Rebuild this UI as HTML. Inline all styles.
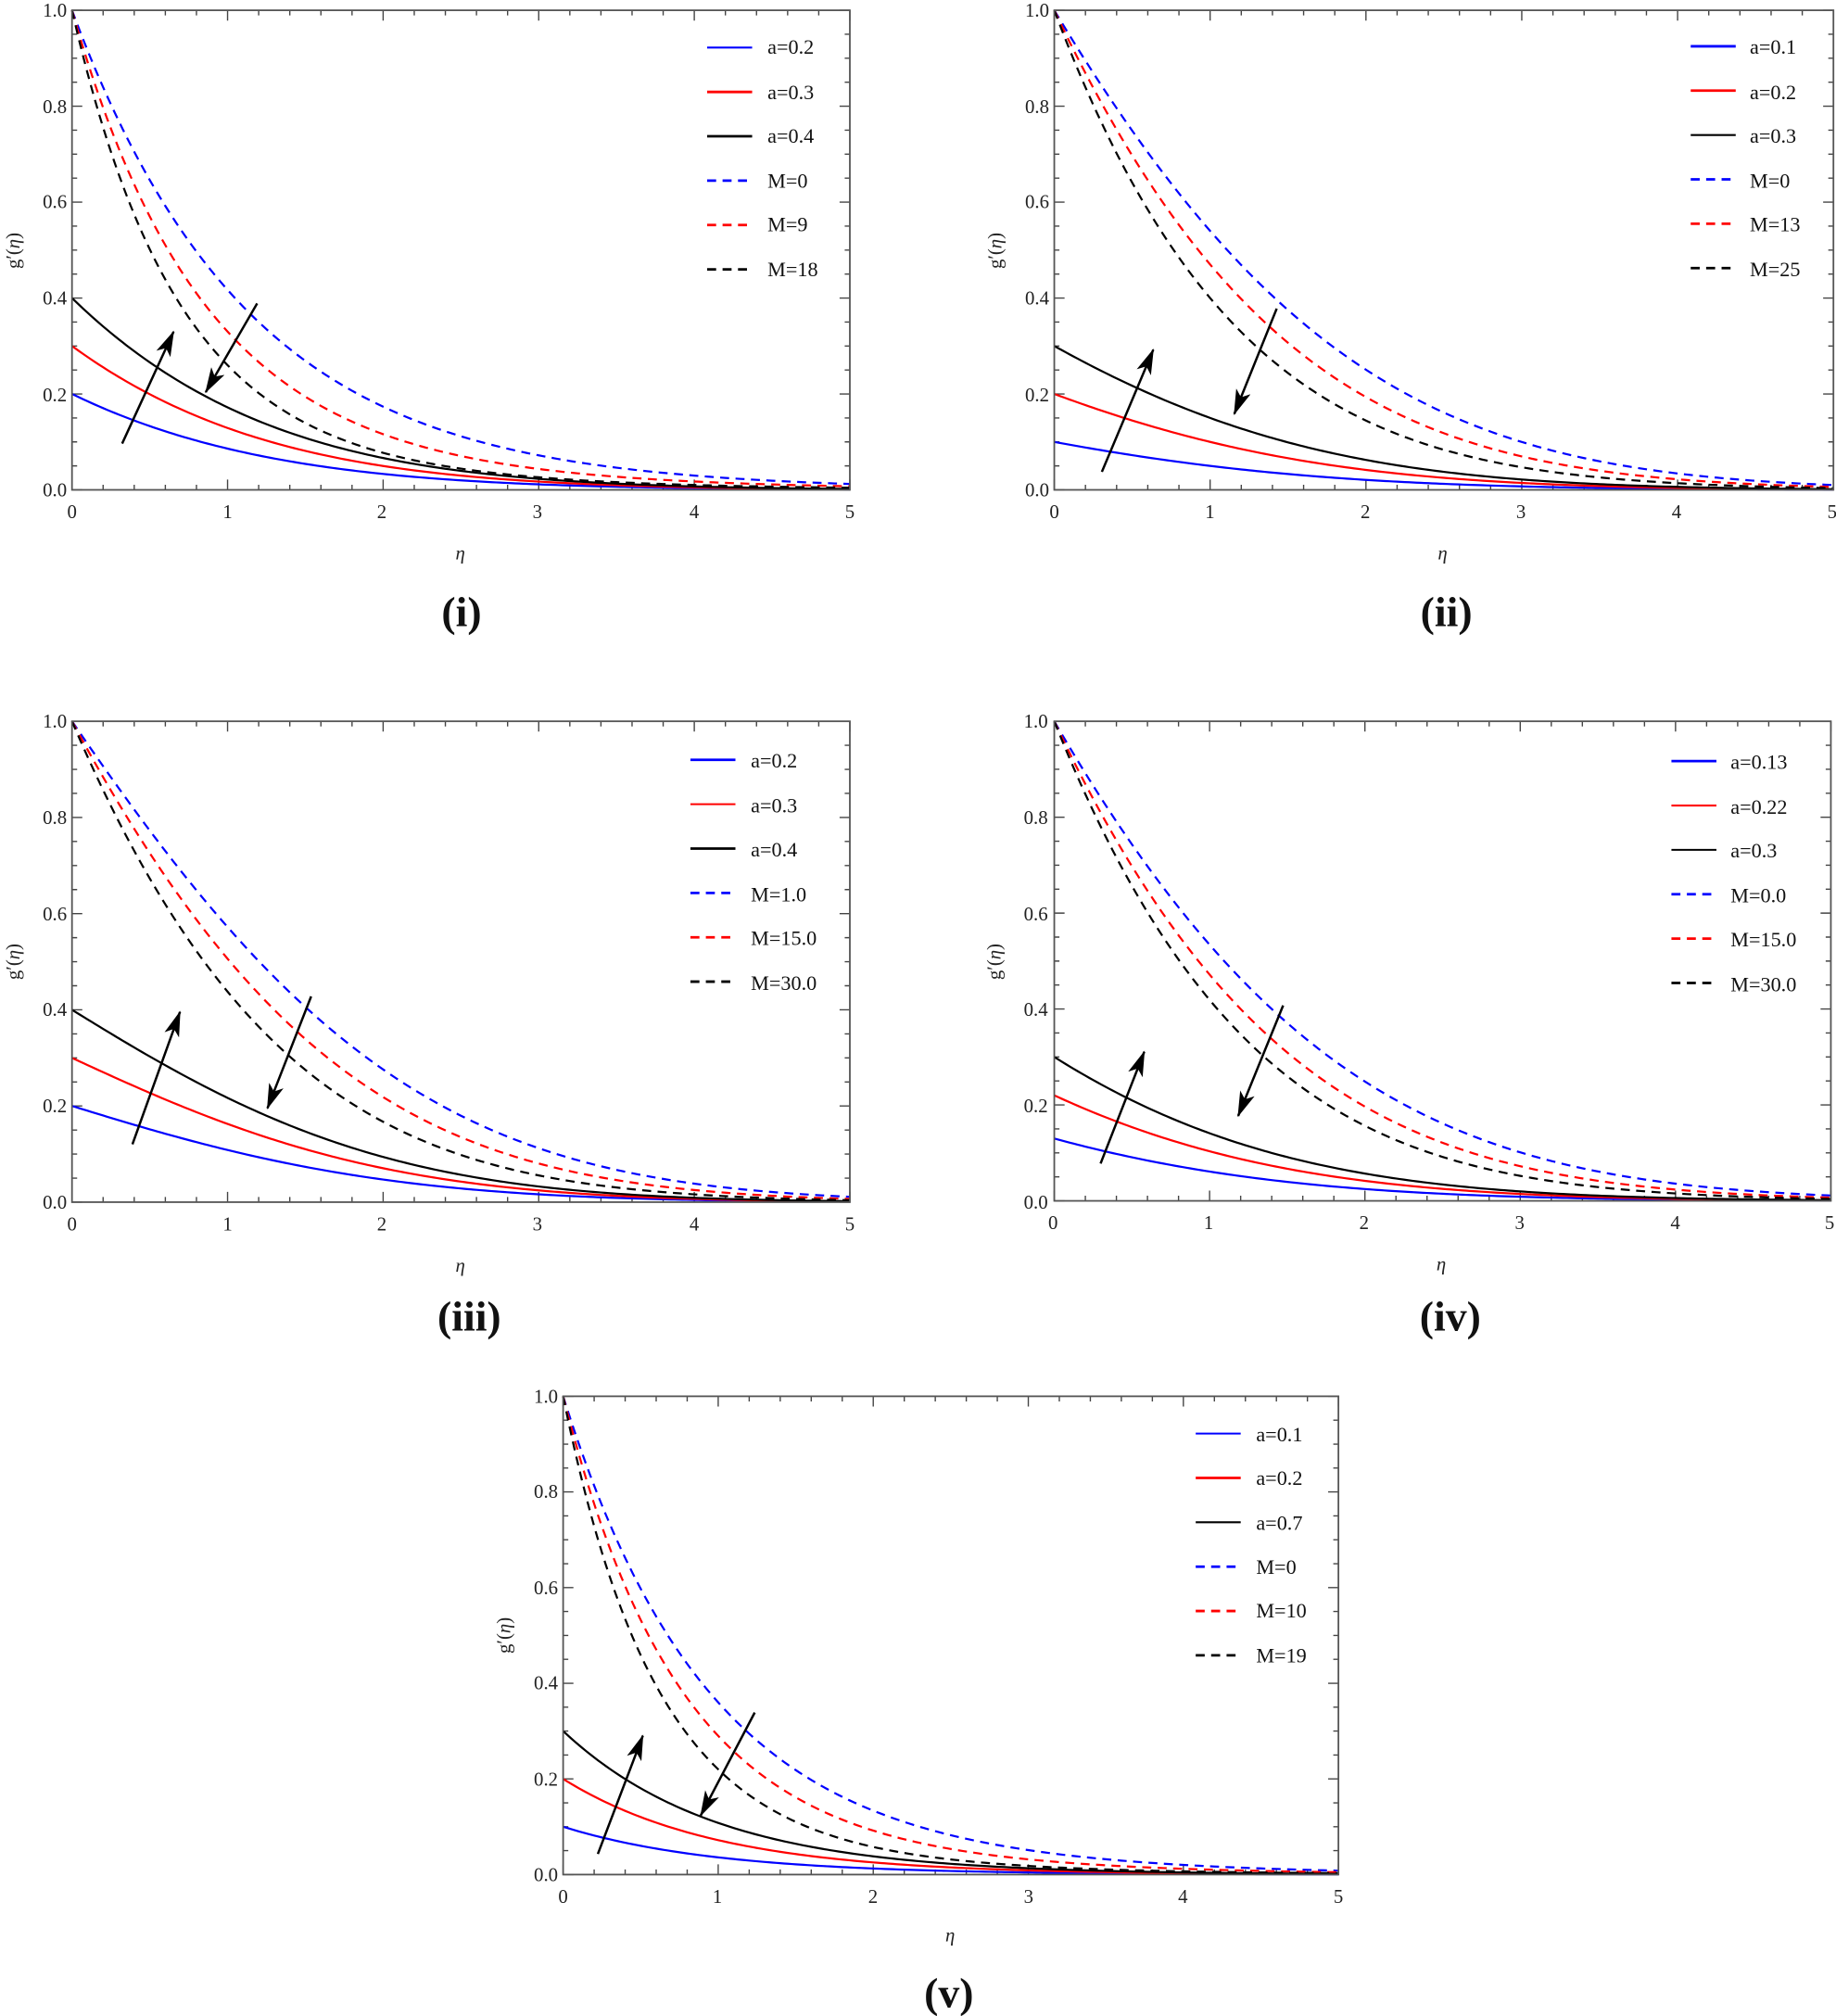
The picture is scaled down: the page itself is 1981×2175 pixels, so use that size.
<!DOCTYPE html>
<html><head><meta charset="utf-8"><style>
html,body{margin:0;padding:0;background:#fff;}
svg{display:block;}
text{font-family:"Liberation Serif",serif;}
.t{font-size:15px;fill:#222;}
.lg{font-size:16px;fill:#111;}
.cap{font-size:33px;font-weight:bold;fill:#111;}
.ax{font-size:15px;font-style:italic;fill:#222;}
</style></head><body>
<svg id="s" width="1981" height="2175" viewBox="0 0 1428 1568" preserveAspectRatio="none" xmlns="http://www.w3.org/2000/svg">
<defs>
<marker id="ah" markerWidth="20" markerHeight="12" refX="19" refY="6" orient="auto" markerUnits="userSpaceOnUse" viewBox="0 0 20 12"><path d="M0,0 L20,6 L0,12 L5,6 z" fill="#000"/></marker>
</defs>
<g id="plots"></g>
<g>
<text class="t" x="52" y="13" text-anchor="end">1.0</text><text class="t" x="52" y="88" text-anchor="end">0.8</text><text class="t" x="52" y="162" text-anchor="end">0.6</text><text class="t" x="52" y="237" text-anchor="end">0.4</text><text class="t" x="52" y="312" text-anchor="end">0.2</text><text class="t" x="52" y="386" text-anchor="end">0.0</text>
<text class="t" x="56" y="403" text-anchor="middle">0</text><text class="t" x="177" y="403" text-anchor="middle">1</text><text class="t" x="297" y="403" text-anchor="middle">2</text><text class="t" x="418" y="403" text-anchor="middle">3</text><text class="t" x="540" y="403" text-anchor="middle">4</text><text class="t" x="661" y="403" text-anchor="middle">5</text>
<text class="ax" x="358" y="435" text-anchor="middle">η</text>
<text class="t" transform="translate(15,195) rotate(-90)" text-anchor="middle">g′(<tspan font-style="italic">η</tspan>)</text>
<text class="cap" x="359" y="487" text-anchor="middle">(i)</text>
<text class="lg" x="597" y="42">a=0.2</text><text class="lg" x="597" y="77">a=0.3</text><text class="lg" x="597" y="111">a=0.4</text><text class="lg" x="597" y="146">M=0</text><text class="lg" x="597" y="180">M=9</text><text class="lg" x="597" y="215">M=18</text>
</g>
<g>
<text class="t" x="816" y="13" text-anchor="end">1.0</text><text class="t" x="816" y="88" text-anchor="end">0.8</text><text class="t" x="816" y="162" text-anchor="end">0.6</text><text class="t" x="816" y="237" text-anchor="end">0.4</text><text class="t" x="816" y="312" text-anchor="end">0.2</text><text class="t" x="816" y="386" text-anchor="end">0.0</text>
<text class="t" x="820" y="403" text-anchor="middle">0</text><text class="t" x="941" y="403" text-anchor="middle">1</text><text class="t" x="1062" y="403" text-anchor="middle">2</text><text class="t" x="1183" y="403" text-anchor="middle">3</text><text class="t" x="1304" y="403" text-anchor="middle">4</text><text class="t" x="1425" y="403" text-anchor="middle">5</text>
<text class="ax" x="1122" y="435" text-anchor="middle">η</text>
<text class="t" transform="translate(779,195) rotate(-90)" text-anchor="middle">g′(<tspan font-style="italic">η</tspan>)</text>
<text class="cap" x="1125" y="487" text-anchor="middle">(ii)</text>
<text class="lg" x="1361" y="42">a=0.1</text><text class="lg" x="1361" y="77">a=0.2</text><text class="lg" x="1361" y="111">a=0.3</text><text class="lg" x="1361" y="146">M=0</text><text class="lg" x="1361" y="180">M=13</text><text class="lg" x="1361" y="215">M=25</text>
</g>
<g>
<text class="t" x="52" y="566" text-anchor="end">1.0</text><text class="t" x="52" y="641" text-anchor="end">0.8</text><text class="t" x="52" y="716" text-anchor="end">0.6</text><text class="t" x="52" y="790" text-anchor="end">0.4</text><text class="t" x="52" y="865" text-anchor="end">0.2</text><text class="t" x="52" y="940" text-anchor="end">0.0</text>
<text class="t" x="56" y="957" text-anchor="middle">0</text><text class="t" x="177" y="957" text-anchor="middle">1</text><text class="t" x="297" y="957" text-anchor="middle">2</text><text class="t" x="418" y="957" text-anchor="middle">3</text><text class="t" x="540" y="957" text-anchor="middle">4</text><text class="t" x="661" y="957" text-anchor="middle">5</text>
<text class="ax" x="358" y="989" text-anchor="middle">η</text>
<text class="t" transform="translate(15,748) rotate(-90)" text-anchor="middle">g′(<tspan font-style="italic">η</tspan>)</text>
<text class="cap" x="365" y="1035" text-anchor="middle">(iii)</text>
<text class="lg" x="584" y="597">a=0.2</text><text class="lg" x="584" y="632">a=0.3</text><text class="lg" x="584" y="666">a=0.4</text><text class="lg" x="584" y="701">M=1.0</text><text class="lg" x="584" y="735">M=15.0</text><text class="lg" x="584" y="770">M=30.0</text>
</g>
<g>
<text class="t" x="815" y="566" text-anchor="end">1.0</text><text class="t" x="815" y="641" text-anchor="end">0.8</text><text class="t" x="815" y="716" text-anchor="end">0.6</text><text class="t" x="815" y="790" text-anchor="end">0.4</text><text class="t" x="815" y="865" text-anchor="end">0.2</text><text class="t" x="815" y="940" text-anchor="end">0.0</text>
<text class="t" x="819" y="956" text-anchor="middle">0</text><text class="t" x="940" y="956" text-anchor="middle">1</text><text class="t" x="1061" y="956" text-anchor="middle">2</text><text class="t" x="1182" y="956" text-anchor="middle">3</text><text class="t" x="1303" y="956" text-anchor="middle">4</text><text class="t" x="1423" y="956" text-anchor="middle">5</text>
<text class="ax" x="1121" y="988" text-anchor="middle">η</text>
<text class="t" transform="translate(778,748) rotate(-90)" text-anchor="middle">g′(<tspan font-style="italic">η</tspan>)</text>
<text class="cap" x="1128" y="1035" text-anchor="middle">(iv)</text>
<text class="lg" x="1346" y="598">a=0.13</text><text class="lg" x="1346" y="633">a=0.22</text><text class="lg" x="1346" y="667">a=0.3</text><text class="lg" x="1346" y="702">M=0.0</text><text class="lg" x="1346" y="736">M=15.0</text><text class="lg" x="1346" y="771">M=30.0</text>
</g>
<g>
<text class="t" x="434" y="1091" text-anchor="end">1.0</text><text class="t" x="434" y="1165" text-anchor="end">0.8</text><text class="t" x="434" y="1240" text-anchor="end">0.6</text><text class="t" x="434" y="1314" text-anchor="end">0.4</text><text class="t" x="434" y="1389" text-anchor="end">0.2</text><text class="t" x="434" y="1463" text-anchor="end">0.0</text>
<text class="t" x="438" y="1480" text-anchor="middle">0</text><text class="t" x="558" y="1480" text-anchor="middle">1</text><text class="t" x="679" y="1480" text-anchor="middle">2</text><text class="t" x="800" y="1480" text-anchor="middle">3</text><text class="t" x="920" y="1480" text-anchor="middle">4</text><text class="t" x="1041" y="1480" text-anchor="middle">5</text>
<text class="ax" x="739" y="1510" text-anchor="middle">η</text>
<text class="t" transform="translate(397,1272) rotate(-90)" text-anchor="middle">g′(<tspan font-style="italic">η</tspan>)</text>
<text class="cap" x="738" y="1561" text-anchor="middle">(v)</text>
<text class="lg" x="977" y="1121">a=0.1</text><text class="lg" x="977" y="1155">a=0.2</text><text class="lg" x="977" y="1190">a=0.7</text><text class="lg" x="977" y="1224">M=0</text><text class="lg" x="977" y="1258">M=10</text><text class="lg" x="977" y="1293">M=19</text>
</g>
</svg>
<script>
(function(){
var NS="http://www.w3.org/2000/svg",G=document.getElementById("plots");
function el(t,a){var e=document.createElementNS(NS,t);for(var k in a)e.setAttribute(k,a[k]);G.appendChild(e);return e;}
var P=[
 {x0:56,x1:661,y0:8,y1:381,a:[0.2,0.3,0.4],sa:[1,0.43],dt:4.4,da:[[1,0.417],[1,0.33],[1,0.26]],lx:550,ly:37,up:[95,345,135,258],dn:[200,236,160,305],lw:[1.5,2,2]},
 {x0:820,x1:1426,y0:8,y1:381,a:[0.1,0.2,0.3],sa:[1,0.5],dt:4.6,da:[[1,0.54],[1,0.47],[1,0.40]],lx:1315,ly:36,up:[857,367,897,272],dn:[993,240,960,322],lw:[2,2,1.5]},
 {x0:56,x1:661,y0:561,y1:935,a:[0.2,0.3,0.4],sa:[2,0.235],dt:4.5,da:[[1.52,0.4],[1.3,0.4],[1.1,0.4]],lx:537,ly:591,up:[103,890,140,787],dn:[242,775,208,862],lw:[2,1.5,2]},
 {x0:820,x1:1424,y0:561,y1:934,a:[0.13,0.22,0.3],sa:[1,0.47],dt:4.5,da:[[1.4,0.4],[1.2,0.4],[1.05,0.4]],lx:1300,ly:592,up:[856,905,890,818],dn:[998,782,963,868],lw:[2,1.5,1.5]},
 {x0:438,x1:1041,y0:1086,y1:1458,a:[0.1,0.2,0.3],sa:[1,0.36],dt:4.8,da:[[1,0.36],[1,0.29],[1,0.22]],lx:930,ly:1115,up:[465,1442,500,1350],dn:[587,1332,545,1412],lw:[1.5,2,1.5]}
];
var C=["#0000ff","#ff0000","#000000"];
function solve(h,e1,eT){var c=(eT-5*e1/h)/(25-5*h); var k=(e1-c*h*h)/h; return [k,c];}
P.forEach(function(p){
 var W=p.x1-p.x0,H=p.y1-p.y0;
 function X(e){return p.x0+e/5*W;} function Y(v){return p.y1-v*H;}
 var d="";
 for(var i=0;i<=25;i++){var x=X(i*0.2),L=(i%5==0)?8:4;d+="M"+x+","+p.y1+"v"+(-L)+"M"+x+","+p.y0+"v"+L;}
 for(var j=0;j<=20;j++){var y=Y(j*0.05),L2=(j%4==0)?8:4;d+="M"+p.x0+","+y+"h"+L2+"M"+p.x1+","+y+"h"+(-L2);}
 el("path",{d:d,stroke:"#444","stroke-width":1,fill:"none"});
 function curve(a,kc,col,dash,w){var s="";for(var n=0;n<=200;n++){var e=n*5/200;s+=(n?"L":"M")+X(e).toFixed(2)+","+Y(a*Math.exp(-(kc[0]*e+kc[1]*e*e))).toFixed(2);}
  var at={d:s,stroke:col,"stroke-width":w,fill:"none"};if(dash)at["stroke-dasharray"]="7,5";el("path",at);}
 for(var c=0;c<3;c++){var an=p.da[c];curve(1,solve(an[0],-Math.log(an[1]),p.dt+c*0.5),C[c],true,1.6);}
 var sk=solve(p.sa[0],-Math.log(p.sa[1]),5.3);
 for(c=0;c<3;c++)curve(p.a[c],sk,C[c],false,1.6);
 el("rect",{x:p.x0,y:p.y0,width:W,height:H,fill:"none",stroke:"#555","stroke-width":1.3});
 for(c=0;c<6;c++){var yy=p.ly+c*34.5;var at={x1:p.lx,x2:p.lx+35,y1:yy,y2:yy,stroke:C[c%3],"stroke-width":c<3?p.lw[c]:2};if(c>=3)at["stroke-dasharray"]="7,5";el("line",at);}
 el("line",{x1:p.up[0],y1:p.up[1],x2:p.up[2],y2:p.up[3],stroke:"#000","stroke-width":1.8,"marker-end":"url(#ah)"});
 el("line",{x1:p.dn[0],y1:p.dn[1],x2:p.dn[2],y2:p.dn[3],stroke:"#000","stroke-width":1.8,"marker-end":"url(#ah)"});
});
})();
</script>
</body></html>
